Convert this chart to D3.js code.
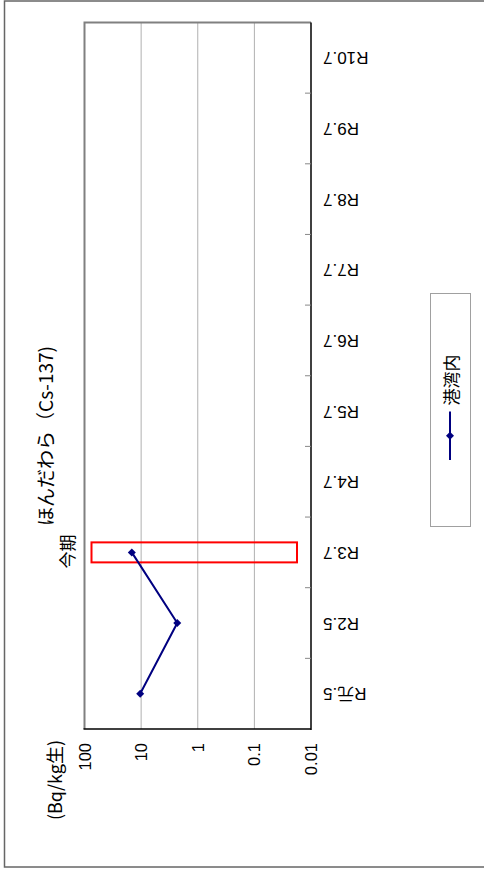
<!DOCTYPE html>
<html>
<head>
<meta charset="utf-8">
<script src="https://cdn.jsdelivr.net/npm/d3@7"></script>
<style>
  html, body { margin: 0; padding: 0; background: #fff; }
  svg { display: block; }
  text { font-family: "Liberation Sans", Arial, "Noto Sans CJK JP", sans-serif; fill: #000; }
  .jp { font-family: "Noto Sans CJK JP", "Liberation Sans", sans-serif; }
</style>
</head>
<body>
<svg id="chart" width="484" height="872"></svg>
<script>
// ---- data ----
const categories = ["R元.5", "R2.5", "R3.7", "R4.7", "R5.7", "R6.7", "R7.7", "R8.7", "R9.7", "R10.7"];
const values = [10.4, 2.3, 14.6, null, null, null, null, null, null, null];
const valueTicks = [100, 10, 1, 0.1, 0.01];
const valueTickLabels = ["100", "10", "1", "0.1", "0.01"];
const seriesName = "港湾内";
const titleText = "ほんだわら（Cs-137)";
const unitText = "(Bq/kg生)";
const highlightCategory = "R3.7";
const highlightLabel = "今期";

// ---- layout (chart is shown rotated 90° counter-clockwise) ----
const svg = d3.select("#chart");
const plot = { left: 84.5, right: 311, top: 22.5, bottom: 729 };
const navy = "#000080";

// value axis runs left->right (100 .. 0.01), categories bottom->top
const x = d3.scaleLog().domain([100, 0.01]).range([plot.left, plot.right]);
const y = d3.scaleBand().domain(categories).range([plot.bottom, plot.top]).padding(0);

// outer frame
svg.append("rect").attr("x", 4.5).attr("y", 1).attr("width", 520).attr("height", 866)
  .attr("fill", "none").attr("stroke", "#666").attr("stroke-width", 1.5);

// plot background
svg.append("rect").attr("x", plot.left).attr("y", plot.top)
  .attr("width", plot.right - plot.left).attr("height", plot.bottom - plot.top)
  .attr("fill", "#fff");

// gridlines
svg.append("g").selectAll("line").data(valueTicks.slice(1, -1)).join("line")
  .attr("x1", d => x(d)).attr("x2", d => x(d))
  .attr("y1", plot.top).attr("y2", plot.bottom)
  .attr("stroke", "#b0b0b0").attr("stroke-width", 1);

// plot border (grey) – left and top
svg.append("path")
  .attr("d", `M${plot.left},${plot.bottom} V${plot.top} H${plot.right}`)
  .attr("fill", "none").attr("stroke", "#808080").attr("stroke-width", 2);

// category axis line (right) and value axis line (bottom)
svg.append("line").attr("x1", plot.right).attr("x2", plot.right)
  .attr("y1", plot.top).attr("y2", plot.bottom + 1)
  .attr("stroke", "#000").attr("stroke-width", 1.5);
svg.append("line").attr("x1", plot.left - 1).attr("x2", plot.right)
  .attr("y1", plot.bottom).attr("y2", plot.bottom)
  .attr("stroke", "#000").attr("stroke-width", 1.5);

// category ticks at band boundaries (inside)
const boundaries = categories.slice(1).map(c => y(c) + y.bandwidth());
svg.append("g").selectAll("line").data(boundaries).join("line")
  .attr("x1", plot.right - 6).attr("x2", plot.right)
  .attr("y1", d => d).attr("y2", d => d)
  .attr("stroke", "#888").attr("stroke-width", 1);

// category labels (upside down)
svg.append("g").selectAll("text").data(categories).join("text")
  .attr("transform", d => `translate(${plot.right + 12},${y(d) + y.bandwidth() / 2}) rotate(180)`)
  .attr("text-anchor", "end").attr("dominant-baseline", "central")
  .attr("font-size", 17).text(d => d);

// value tick labels
svg.append("g").selectAll("text").data(valueTicks).join("text")
  .attr("transform", d => `translate(${x(d)},${plot.bottom + 14}) rotate(-90)`)
  .attr("text-anchor", "end").attr("dominant-baseline", "central")
  .attr("font-size", 16.5).text((d, i) => valueTickLabels[i]);

// unit label
svg.append("text").attr("class", "jp")
  .attr("transform", `translate(53.5,780) rotate(-90)`)
  .attr("text-anchor", "middle").attr("dominant-baseline", "central")
  .attr("font-size", 18).text(unitText);

// title
svg.append("text").attr("class", "jp")
  .attr("transform", `translate(44,436) rotate(-90)`)
  .attr("text-anchor", "middle").attr("dominant-baseline", "central")
  .attr("font-size", 19).text(titleText);

// highlight box + label
const hy = y(highlightCategory) + y.bandwidth() / 2;
svg.append("rect")
  .attr("x", plot.left + 7).attr("y", hy - 10)
  .attr("width", plot.right - plot.left - 21).attr("height", 20)
  .attr("fill", "none").attr("stroke", "#ff0000").attr("stroke-width", 2);
svg.append("text").attr("class", "jp")
  .attr("transform", `translate(66,${hy - 1}) rotate(-90)`)
  .attr("text-anchor", "middle").attr("dominant-baseline", "central")
  .attr("font-size", 17).text(highlightLabel);

// series line
const pts = categories.map((c, i) => ({ c, v: values[i] })).filter(d => d.v != null);
const line = d3.line().x(d => x(d.v)).y(d => y(d.c) + y.bandwidth() / 2);
svg.append("path").datum(pts).attr("d", line)
  .attr("fill", "none").attr("stroke", navy).attr("stroke-width", 2);

const diamond = d3.symbol().type(d3.symbolSquare).size(32);
svg.append("g").selectAll("path").data(pts).join("path")
  .attr("transform", d => `translate(${x(d.v)},${y(d.c) + y.bandwidth() / 2}) rotate(45)`)
  .attr("d", diamond).attr("fill", navy);

// legend
const lg = svg.append("g");
lg.append("rect").attr("x", 430.5).attr("y", 293.5).attr("width", 40).attr("height", 233)
  .attr("fill", "#fff").attr("stroke", "#a0a0a0").attr("stroke-width", 1);
lg.append("line").attr("x1", 450).attr("x2", 450).attr("y1", 460).attr("y2", 411.5)
  .attr("stroke", navy).attr("stroke-width", 2);
lg.append("path").attr("transform", "translate(450,435.7) rotate(45)")
  .attr("d", diamond).attr("fill", navy);
lg.append("text").attr("class", "jp")
  .attr("transform", "translate(450,380) rotate(-90)")
  .attr("text-anchor", "middle").attr("dominant-baseline", "central")
  .attr("font-size", 17).text(seriesName);
</script>
</body>
</html>
